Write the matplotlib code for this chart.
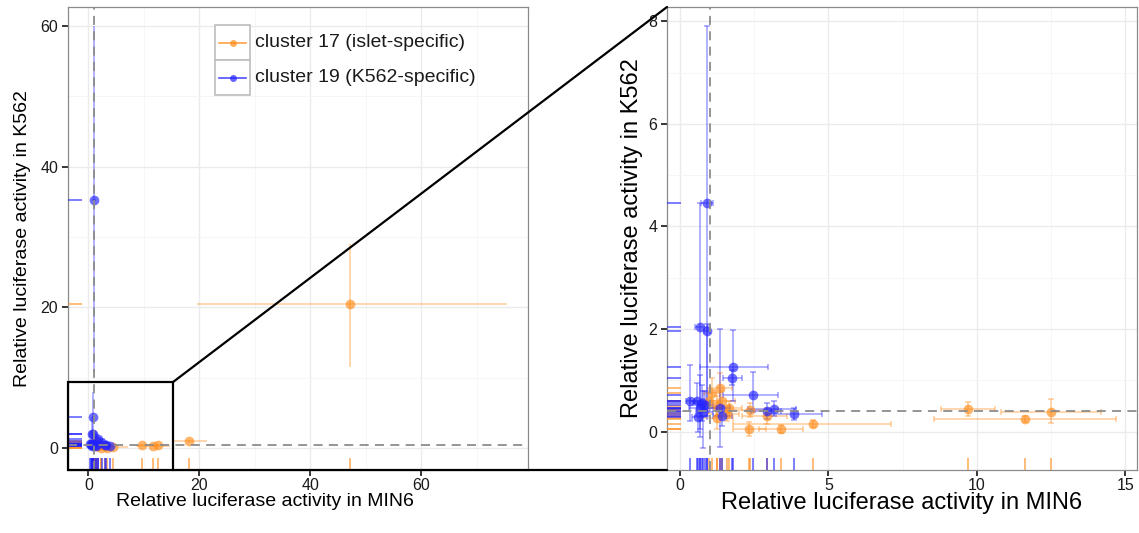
import matplotlib
matplotlib.use('Agg')
import matplotlib.pyplot as plt
from matplotlib.patches import Rectangle, ConnectionPatch
from matplotlib.colors import to_rgba
import numpy as np

plt.rcParams['font.family'] = ['Liberation Sans', 'DejaVu Sans']

# cluster 17 (islet-specific): point, x range, y range
orange_x = [47.2, 18.2, 12.5, 11.63, 9.7, 4.47, 3.4, 2.33, 2.36, 2.92, 1.07, 1.35, 1.24, 1.24, 1.40, 0.99, 1.57, 1.66]
orange_y = [20.5, 0.95, 0.39, 0.24, 0.44, 0.15, 0.05, 0.05, 0.42, 0.30, 0.75, 0.85, 0.49, 0.26, 0.60, 0.60, 0.35, 0.45]
orange_xmin = [19.5, 15.3, 10.8, 8.56, 8.8, 1.80, 2.66, 1.80, 1.50, 2.10, 0.80, 1.00, 0.85, 0.70, 1.05, 0.75, 1.20, 1.25]
orange_xmax = [75.5, 21.4, 14.2, 14.7, 10.6, 7.10, 4.15, 2.90, 3.30, 3.60, 1.35, 1.75, 1.70, 1.80, 1.85, 1.25, 2.00, 2.10]
orange_ymin = [11.5, 0.70, 0.16, 0.18, 0.30, 0.08, -0.02, -0.08, 0.28, 0.15, 0.45, 0.55, 0.30, 0.05, 0.40, 0.35, 0.20, 0.30]
orange_ymax = [29.0, 1.20, 0.63, 0.30, 0.58, 0.22, 0.12, 0.18, 0.56, 0.45, 1.05, 1.15, 0.70, 0.47, 0.80, 0.85, 0.50, 0.60]

# cluster 19 (K562-specific)
blue_x = [1.0, 0.91, 0.67, 0.90, 1.80, 1.74, 2.45, 3.15, 3.84, 0.34, 0.67, 0.62, 0.73, 0.79, 1.35, 1.40, 0.56, 0.84, 2.92]
blue_y = [35.2, 4.45, 2.04, 1.96, 1.26, 1.04, 0.71, 0.44, 0.34, 0.59, 0.46, 0.29, 0.55, 0.38, 0.46, 0.30, 0.60, 0.52, 0.40]
blue_xmin = [0.6, 0.72, 0.50, 0.80, 0.67, 1.45, 1.46, 2.30, 2.90, 0.20, 0.30, 0.40, 0.45, 0.55, 1.00, 1.10, 0.35, 0.60, 2.40]
blue_xmax = [1.4, 1.10, 0.95, 1.02, 2.96, 2.08, 3.30, 3.90, 4.78, 0.50, 1.20, 0.90, 1.00, 1.10, 1.70, 1.75, 0.80, 1.10, 3.40]
blue_ymin = [10.8, 0.40, 0.05, 0.30, 0.59, 0.90, 0.39, 0.30, 0.22, 0.20, -0.10, 0.00, 0.20, -0.33, -0.30, 0.10, 0.30, 0.30, 0.25]
blue_ymax = [60.0, 7.90, 4.45, 2.10, 1.98, 1.20, 1.16, 0.60, 0.46, 1.30, 1.10, 0.60, 0.90, 0.80, 2.00, 0.50, 0.95, 0.80, 0.55]

labels = ['cluster 17 (islet-specific)', 'cluster 19 (K562-specific)']
ref_x = 1.0
ref_y = 0.41

ORANGE = '#ff8c1a'
BLUE = '#2222ff'

series = [
    (orange_x, orange_y, orange_xmin, orange_xmax, orange_ymin, orange_ymax, ORANGE),
    (blue_x, blue_y, blue_xmin, blue_xmax, blue_ymin, blue_ymax, BLUE),
]


def panel(ax, xlim, ylim, xmaj, xmin_, ymaj, ymin_, labsize, ticksize, drop, caps, ylabpad):
    ax.set_xlim(xlim)
    ax.set_ylim(ylim)
    ax.set_xticks(xmaj)
    ax.set_xticks(xmin_, minor=True)
    ax.set_yticks(ymaj)
    ax.set_yticks(ymin_, minor=True)
    ax.grid(True, which='major', color='#ebebeb', lw=1.0, zorder=0)
    ax.grid(True, which='minor', color='#f5f5f5', lw=0.6, zorder=0)
    ax.set_axisbelow(True)
    ax.tick_params(which='major', direction='out', length=4, width=1.1, color='black', pad=1.5,
                   labelsize=ticksize, labelcolor='#1a1a1a')
    ax.tick_params(axis='y', pad=3)
    ax.tick_params(which='minor', length=0)
    for s in ax.spines.values():
        s.set_color('#8a8a8a')
        s.set_linewidth(0.9)

    for xs, ys, x0, x1, y0, y1, col in series:
        xs, ys = np.array(xs), np.array(ys)
        x0, x1, y0, y1 = map(np.array, (x0, x1, y0, y1))
        if drop:
            keep = (xs >= xlim[0]) & (xs <= xlim[1]) & (ys >= ylim[0]) & (ys <= ylim[1])
        else:
            keep = np.ones(len(xs), bool)
        xs, ys, x0, x1, y0, y1 = xs[keep], ys[keep], x0[keep], x1[keep], y0[keep], y1[keep]
        ax.errorbar(xs, ys, xerr=[xs - x0, x1 - xs], yerr=[ys - y0, y1 - ys], fmt='none',
                    ecolor=to_rgba(col, 0.45), elinewidth=1.1, capsize=caps, capthick=1.1, zorder=3)
        ax.plot(xs, ys, 'o', ms=7, mfc=to_rgba(col, 0.65), mec='none', zorder=4)
        ax.vlines(xs, 0, 0.026, transform=ax.get_xaxis_transform(), colors=[to_rgba(col, 0.75)],
                  lw=1.1, zorder=4)
        ax.hlines(ys, 0, 0.03, transform=ax.get_yaxis_transform(), colors=[to_rgba(col, 0.75)],
                  lw=1.1, zorder=4)

    ax.axvline(ref_x, color='#8c8c8c', lw=1.3, dashes=(5, 3.5), zorder=5)
    ax.axhline(ref_y, color='#8c8c8c', lw=1.3, dashes=(5, 3.5), zorder=5)
    ax.set_xlabel('Relative luciferase activity in MIN6', fontsize=labsize)
    ax.set_ylabel('Relative luciferase activity in K562', fontsize=labsize, labelpad=ylabpad)


fig = plt.figure(figsize=(11.39, 5.33), dpi=100)
W, H = 1139.0, 533.0
ax1 = fig.add_axes([68 / W, 63 / H, 460 / W, 463 / H])
ax2 = fig.add_axes([667 / W, 63 / H, 470 / W, 463 / H])

panel(ax1, (-3.66, 79.2), (-3.13, 62.7), [0, 20, 40, 60], [10, 30, 50, 70],
      [0, 20, 40, 60], [10, 30, 50], 14, 11.5, False, 0, 7)
panel(ax2, (-0.44, 15.4), (-0.75, 8.28), [0, 5, 10, 15], [2.5, 7.5, 12.5],
      [0, 2, 4, 6, 8], [1, 3, 5, 7], 17, 11.5, True, 2.2, 4)
ax1.xaxis.set_label_coords((265 - 68) / 460, -0.05)
ax2.xaxis.set_label_coords(0.5, -0.048)

# legend drawn as ggplot-style key boxes
kx0, kx1 = (215 - 68) / 460, (250 - 68) / 460
rows = [((470 - 25) / 463, (470 - 60) / 463), ((470 - 60) / 463, (470 - 95) / 463)]
for (top, bot), col, lab in zip(rows, [ORANGE, BLUE], labels):
    ax1.add_patch(Rectangle((kx0, bot), kx1 - kx0, top - bot, transform=ax1.transAxes,
                            fill=True, fc='white', ec='#bdbdbd', lw=1.2, zorder=6))
    mid = (top + bot) / 2
    ax1.plot([kx0 + 0.008, kx1 - 0.008], [mid, mid], color=to_rgba(col, 0.8), lw=1.2,
             transform=ax1.transAxes, zorder=7)
    ax1.plot([(kx0 + kx1) / 2], [mid], 'o', ms=5, mfc=to_rgba(col, 0.7), mec='none',
             transform=ax1.transAxes, zorder=7)
    ax1.text(kx1 + 0.01, mid, lab, transform=ax1.transAxes, va='center', ha='left',
             fontsize=14, color='#1a1a1a', zorder=7)

# zoom box and connectors
zoom_x1, zoom_y1 = 15.3, 9.4
x0, y0 = ax1.get_xlim()[0], ax1.get_ylim()[0]
ax1.add_patch(Rectangle((x0, y0), zoom_x1 - x0, zoom_y1 - y0, fill=False, ec='black',
                        lw=1.6, clip_on=False, zorder=10))
for ya, yb in [(zoom_y1, 1), (y0, 0)]:
    con = ConnectionPatch(xyA=(zoom_x1, ya), coordsA=ax1.transData, xyB=(0, yb),
                          coordsB=ax2.transAxes, color='black', lw=1.6)
    fig.add_artist(con)

plt.savefig('out.png', dpi=100)
